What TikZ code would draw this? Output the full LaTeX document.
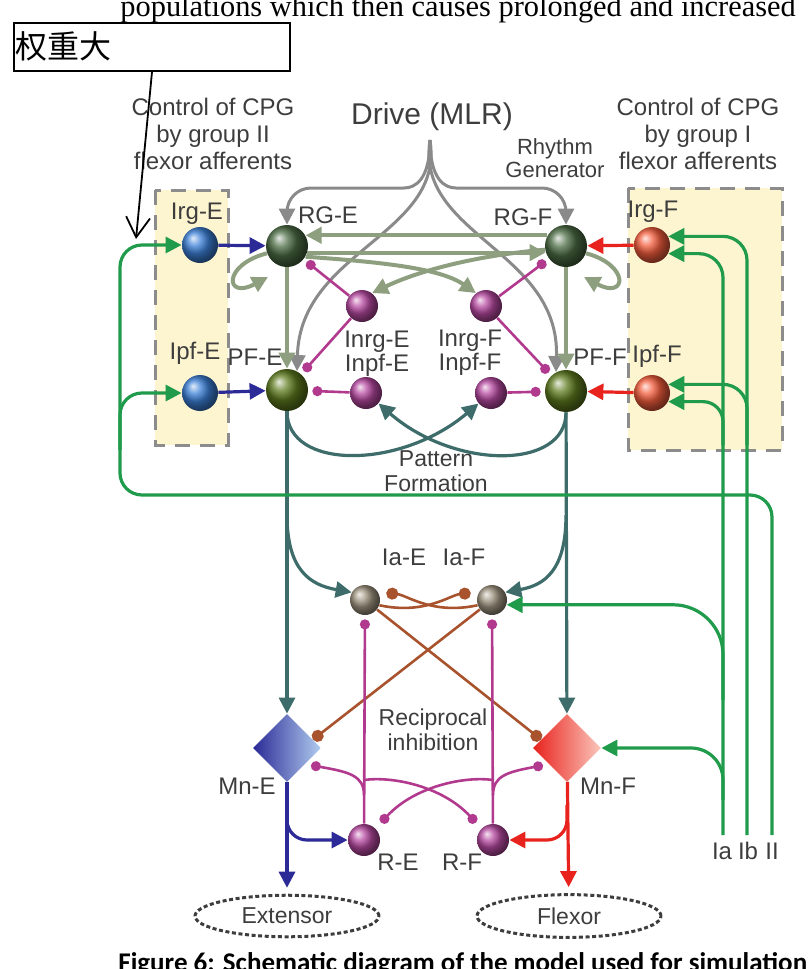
\documentclass[tikz,border=0pt]{standalone}
\usepackage{fontspec}
\usetikzlibrary{arrows.meta,shapes.geometric}
\setmainfont{Liberation Sans}
\newfontfamily\cjkfont{Noto Sans CJK SC}
\newfontfamily\serfont{Liberation Serif}
\newfontfamily\capfont{Carlito}

\definecolor{txtgray}{HTML}{3D3D3D}
\definecolor{boxyellow}{HTML}{FDF5CF}
\definecolor{dashgray}{HTML}{8C8C8C}
\definecolor{ballblue}{HTML}{3B7FD6}
\definecolor{ballred}{HTML}{F25C3C}
\definecolor{ballrg}{HTML}{4A6A42}
\definecolor{ballpf}{HTML}{5E7A1E}
\definecolor{ballmag}{HTML}{B5489F}
\definecolor{balltan}{HTML}{9D927E}
\definecolor{drvgray}{HTML}{8A8A8A}
\definecolor{olivegr}{HTML}{8E9F7F}
\definecolor{tealgr}{HTML}{3E6C6A}
\definecolor{affgreen}{HTML}{1F9B4B}
\definecolor{mnblue}{HTML}{2B2A96}
\definecolor{mnred}{HTML}{E8221C}
\definecolor{inhmag}{HTML}{B23A8E}
\definecolor{iabrown}{HTML}{A8532D}

\tikzset{
	cell/.style={circle, inner sep=0pt, minimum size=#1},
	lbl/.style={text=txtgray, font=\fontsize{12}{13.5}\selectfont, align=center, inner sep=0pt},
	arr/.style={-{Triangle[length=8pt,width=8pt]}},
	drv/.style={draw=drvgray, line width=1.5pt, arr},
	olv/.style={draw=olivegr, line width=2pt, arr},
	pat/.style={draw=tealgr, line width=1.6pt, arr},
	grn/.style={draw=affgreen, line width=1.6pt, arr},
	blu/.style={draw=mnblue, line width=1.6pt, arr},
	rdd/.style={draw=mnred, line width=1.6pt, arr},
	inh/.style={draw=inhmag, line width=1.3pt, -{Circle[length=5pt]}, shorten >=2pt},
	brn/.style={draw=iabrown, line width=1.3pt, -{Circle[length=6pt]}},
	ybox/.style={fill=boxyellow, draw=dashgray, line width=1.5pt, dash pattern=on 7.5pt off 5pt},
	musc/.style={ellipse, draw=txtgray, line width=1.5pt, dash pattern=on 2pt off 1.3pt, minimum width=92pt, minimum height=19pt, text=txtgray, font=\fontsize{11.5}{13}\selectfont}
}

\begin{document}
\begin{tikzpicture}[x=0.5pt,y=-0.5pt]
	\useasboundingbox (0,0) rectangle (810,969);

	\node[anchor=base west, inner sep=0pt, font=\serfont\fontsize{15.2}{18}\selectfont] (ptxt) at (120,17) {populations which then causes prolonged and increased};
	\node[anchor=base west, inner sep=0pt, font=\capfont\bfseries\fontsize{13.5}{16}\selectfont] (fcap) at (118,971) {Figure 6: Schematic diagram of the model used for simulation};

	\draw[ybox] (155,190) rectangle (228,445);
	\draw[ybox] (628,188) rectangle (782,450);

	\node[lbl] (ctlII) at (213,134) {Control of CPG\\by group II\\flexor afferents};
	\node[lbl] (ctlI) at (698,134) {Control of CPG\\by group I\\flexor afferents};
	\node[lbl, font=\fontsize{15}{17}\selectfont] (drive) at (432,117) {Drive (MLR)};
	\node[lbl, font=\fontsize{11}{11.5}\selectfont] (rhythm) at (555,158) {Rhythm\\Generator};
	\coordinate (mlr) at (430,140);

	\node[cell=18pt, ball color=ballblue] (irgE) at (200,245) {};
	\node[cell=18pt, ball color=ballblue] (ipfE) at (200,393) {};
	\node[cell=21pt, ball color=ballrg] (rgE) at (287,246) {};
	\node[cell=21pt, ball color=ballpf] (pfE) at (287,390) {};
	\node[cell=21pt, ball color=ballrg] (rgF) at (566,246) {};
	\node[cell=21pt, ball color=ballpf] (pfF) at (566,391) {};
	\node[cell=18pt, ball color=ballred] (irgF) at (652,245) {};
	\node[cell=18pt, ball color=ballred] (ipfF) at (652,393) {};
	\node[cell=16pt, ball color=ballmag] (inrgE) at (362,306) {};
	\node[cell=16pt, ball color=ballmag] (inpfE) at (366,393) {};
	\node[cell=16pt, ball color=ballmag] (inrgF) at (486,306) {};
	\node[cell=16pt, ball color=ballmag] (inpfF) at (491,393) {};
	\node[cell=15pt, ball color=balltan] (iaE) at (365,600) {};
	\node[cell=15pt, ball color=balltan] (iaF) at (492,600) {};
	\node[cell=16pt, ball color=ballmag] (rE) at (364,840) {};
	\node[cell=16pt, ball color=ballmag] (rF) at (493,840) {};
	\node[diamond, inner sep=0pt, minimum width=34pt, minimum height=34pt, left color=mnblue, right color=ballblue!40] (mnE) at (287,748) {};
	\node[diamond, inner sep=0pt, minimum width=34pt, minimum height=34pt, left color=mnred, right color=ballred!35] (mnF) at (567,748) {};
	\node[musc] (ext) at (287,916) {Extensor};
	\node[musc] (flex) at (569,916) {Flexor};

	\node[lbl] (tirgE) at (197,214) {Irg-E};
	\node[lbl] (tipfE) at (195,353) {Ipf-E};
	\node[lbl] (trgE) at (328,215) {RG-E};
	\node[lbl] (tpfE) at (255,357) {PF-E};
	\node[lbl] (trgF) at (523,217) {RG-F};
	\node[lbl] (tpfF) at (600,357) {PF-F};
	\node[lbl] (tirgF) at (653,212) {Irg-F};
	\node[lbl] (tipfF) at (657,356) {Ipf-F};
	\node[lbl, font=\fontsize{12}{11}\selectfont] (tinE) at (377,354) {Inrg-E\\Inpf-E};
	\node[lbl, font=\fontsize{12}{11}\selectfont] (tinF) at (470,353) {Inrg-F\\Inpf-F};
	\node[lbl, font=\fontsize{11.5}{12.5}\selectfont] (tpat) at (436,471) {Pattern\\Formation};
	\node[lbl] (tiaE) at (404,557) {Ia-E};
	\node[lbl] (tiaF) at (464,557) {Ia-F};
	\node[lbl, font=\fontsize{11.5}{12.5}\selectfont] (trec) at (433,730) {Reciprocal\\inhibition};
	\node[lbl] (tmnE) at (247,786) {Mn-E};
	\node[lbl] (tmnF) at (608,786) {Mn-F};
	\node[lbl] (trE) at (398,862) {R-E};
	\node[lbl] (trF) at (462,862) {R-F};
	\node[lbl] (tIa) at (722,851) {Ia};
	\node[lbl] (tIb) at (748,851) {Ib};
	\node[lbl] (tII) at (772,851) {II};

	\draw[drv, rounded corners=12pt] (mlr) .. controls (430,180) and (415,188) .. (380,188) -| (rgE);
	\draw[drv, rounded corners=12pt] (mlr) .. controls (430,180) and (445,188) .. (480,188) -| (rgF);
	\draw[drv] (mlr) .. controls (445,235) and (300,250) .. (pfE.62);
	\draw[drv] (mlr) .. controls (415,235) and (560,250) .. (pfF.118);

	\draw[olv] (rgF.150) -- (rgE.30);
	\draw[olv] (rgE.-18) -- (rgF.198);
	\draw[olv] (rgE.-30) .. controls (380,262) and (440,268) .. (inrgF.128);
	\draw[olv] (rgF.190) .. controls (480,255) and (420,270) .. (inrgE.52);
	\coordinate (lpE) at (268,277);
	\coordinate (lpF) at (584,277);
	\draw[olv] (rgE.200) .. controls (222,265) and (225,300) .. (lpE);
	\draw[olv] (rgF.-20) .. controls (630,265) and (627,300) .. (lpF);
	\draw[olv] (rgE) -- (pfE);
	\draw[olv] (rgF) -- (pfF);

	\draw[blu] (irgE) -- (rgE);
	\draw[blu] (ipfE) -- (pfE);
	\draw[rdd] (irgF) -- (rgF);
	\draw[rdd] (ipfF) -- (pfF);

	\draw[inh] (inrgE) -- (rgE);
	\draw[inh] (inrgE) -- (pfE);
	\draw[inh] (inpfE) -- (pfE);
	\draw[inh] (inrgF) -- (rgF);
	\draw[inh] (inrgF) -- (pfF);
	\draw[inh] (inpfF) -- (pfF);

	\draw[pat] (pfE.south) .. controls (287,470) and (400,470) .. (inpfF.220);
	\draw[pat] (pfF.south) .. controls (566,470) and (455,470) .. (inpfE.-40);
	\draw[pat] (pfE) -- (mnE);
	\draw[pat] (pfF) -- (mnF);
	\coordinate (brE) at (287,515);
	\coordinate (brF) at (566,515);
	\draw[pat] (brE) .. controls (287,570) and (310,585) .. (iaE.150);
	\draw[pat] (brF) .. controls (566,570) and (545,585) .. (iaF.30);

	\draw[brn, shorten >=4pt] (iaE.-20) .. controls (425,615) and (450,595) .. (iaF.150);
	\draw[brn, shorten >=4pt] (iaF.200) .. controls (432,615) and (407,595) .. (iaE.30);
	\draw[brn] (iaE) -- (mnF.162);
	\draw[brn] (iaF) -- (mnE.18);

	\coordinate (jE) at (364,795);
	\coordinate (jF) at (493,795);
	\coordinate (kE) at (364,780);
	\coordinate (kF) at (493,780);
	\draw[inh] (rE) -- (iaE);
	\draw[inh] (rF) -- (iaF);
	\draw[inh, shorten >=3pt] (jE) .. controls (364,776) and (350,772) .. (mnE.-42);
	\draw[inh, shorten >=3pt] (jF) .. controls (493,776) and (507,772) .. (mnF.-138);
	\draw[inh, shorten >=4pt] (kE) .. controls (392,776) and (442,786) .. (rF.135);
	\draw[inh, shorten >=4pt] (kF) .. controls (465,776) and (415,786) .. (rE.45);

	\coordinate (bE) at (287,805);
	\coordinate (bF) at (567,805);
	\draw[blu, shorten >=3pt] (mnE) -- (ext);
	\draw[rdd, shorten >=3pt] (mnF) -- (flex);
	\draw[blu, rounded corners=10pt] (bE) |- (rE.west);
	\draw[rdd, rounded corners=10pt] (bF) |- (rF.east);

	\coordinate (cII) at (772,835);
	\coordinate (cIb) at (747,835);
	\coordinate (cIa) at (723,835);
	\coordinate (gcL) at (120,495);
	\coordinate (gE2) at (120,450);
	\coordinate (gb1) at (747,445);
	\coordinate (ga1) at (723,445);
	\coordinate (ga2) at (723,700);
	\coordinate (ga3) at (723,800);
	\draw[grn, rounded corners=11pt] (cII) |- (gcL) |- (irgE.west);
	\draw[grn, rounded corners=11pt] (gE2) |- (ipfE.west);
	\draw[grn, rounded corners=12pt] (cIb) |- (irgF.28);
	\draw[grn, rounded corners=12pt] (cIa) |- (irgF.-28);
	\draw[grn, rounded corners=12pt] (gb1) |- (ipfF.28);
	\draw[grn, rounded corners=10pt] (ga1) |- (ipfF.-28);
	\draw[grn, rounded corners=25pt] (ga2) |- (iaF.-18);
	\draw[grn, rounded corners=16pt] (ga3) |- (mnF.east);

	\node[draw, line width=1pt, minimum width=138pt, minimum height=24pt, anchor=north west, inner sep=0pt, fill=white] (wbox) at (13,22) {};
	\node[anchor=west, inner sep=0pt, font=\cjkfont\fontsize{16}{16}\selectfont] (wtxt) at (15,46) {权重大};
	\coordinate (wtip) at (136,239);
	\draw[line width=0.9pt, -{Straight Barb[length=10pt,width=12pt]}] (wbox.south) -- (wtip);
\end{tikzpicture}
\end{document}
